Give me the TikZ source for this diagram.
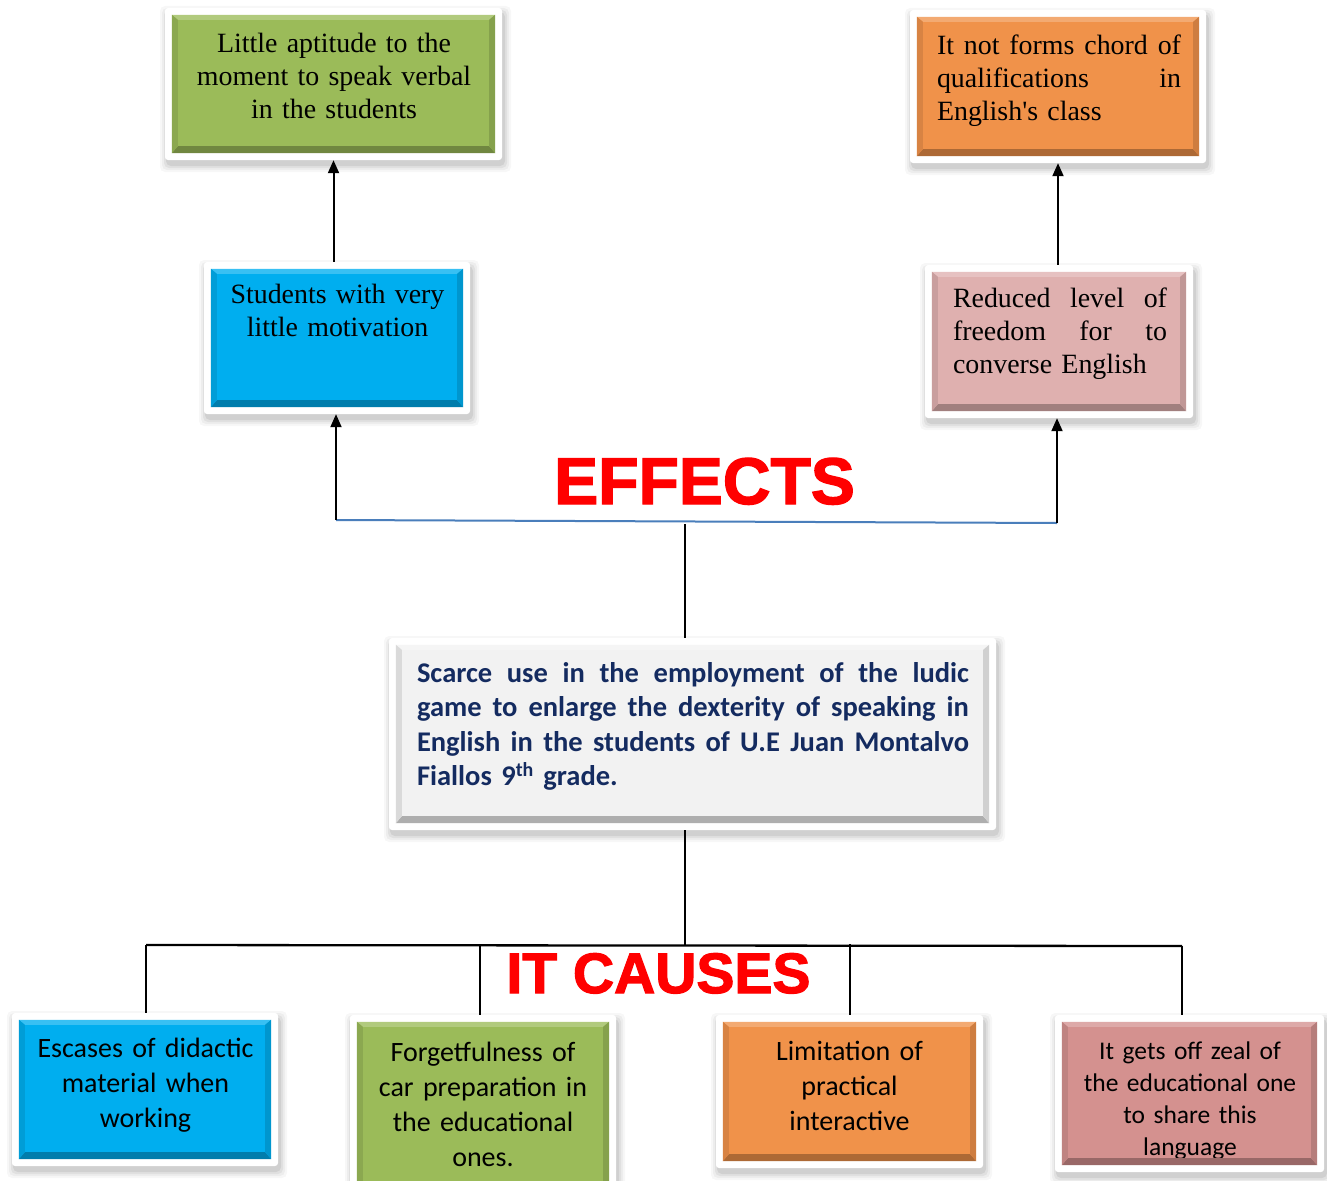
\documentclass[tikz,border=0pt]{standalone}
\usepackage{fontspec}
\setmainfont{Liberation Serif}
\newfontfamily\calib{Carlito}
\newfontfamily\arialf{Liberation Sans}[BoldFeatures={FakeBold=2}]
\usetikzlibrary{arrows.meta,calc}
\definecolor{cgreen}{HTML}{9BBB59}
\definecolor{corange}{HTML}{F0924A}
\definecolor{cblue}{HTML}{00AEEF}
\definecolor{cpinkl}{HTML}{DFB0AF}
\definecolor{cpink}{HTML}{D4918F}
\definecolor{cgray}{HTML}{F2F2F2}
\definecolor{navy}{HTML}{142B60}
\definecolor{linkblue}{HTML}{4A7EBB}
\definecolor{hred}{HTML}{FF0000}
\tikzset{
  frame/.style={draw=none, fill=white, rounded corners=3pt, inner sep=0pt},
  arr/.style={line width=2pt, -{Triangle[length=13pt,width=11pt]}},
  link/.style={line width=1.3pt},
  thicklink/.style={line width=2.3pt},
  ttext/.style={font=\fontsize{27.9}{33}\selectfont, inner sep=0pt, anchor=north},
  ctext/.style={font=\calib\fontsize{28}{35}\selectfont, inner sep=0pt, anchor=north, align=center},
  headline/.style={text=hred, inner sep=0pt, anchor=base}
}
% justified line of given width
\newcommand\jline[2]{\leavevmode\hbox to #1pt{\strut #2}}
% #1 name, #2 cx, #3 cy, #4 w, #5 h, #6 colour
\newcommand\ebox[6]{%
  \foreach \k/\o in {7/0.03,5/0.04,3/0.05,1/0.07}{%
    \fill[black,opacity=\o,rounded corners=5pt]
      ({#2-#4/2-\k+2},{#3-#5/2-\k+5}) rectangle ({#2+#4/2+\k+2},{#3+#5/2+\k+5});}
  \node[frame, minimum width=#4pt, minimum height=#5pt] (#1) at (#2,#3) {};
  \coordinate (#1-nw) at ($(#1.north west)+(7,7)$);
  \coordinate (#1-se) at ($(#1.south east)+(-7,-7)$);
  \coordinate (#1-ne) at (#1-se |- #1-nw);
  \coordinate (#1-sw) at (#1-nw |- #1-se);
  \fill[#6] (#1-nw) rectangle (#1-se);
}
\newcommand\bevel[2]{%
  \fill[#2!78!white] (#1-nw) -- (#1-ne) -- ($(#1-ne)+(-6,5)$) -- ($(#1-nw)+(6,5)$) -- cycle;
  \fill[#2!72!black] (#1-sw) -- (#1-se) -- ($(#1-se)+(-6,-7)$) -- ($(#1-sw)+(6,-7)$) -- cycle;
  \fill[#2!90!black] (#1-nw) -- ($(#1-nw)+(6,5)$) -- ($(#1-sw)+(6,-7)$) -- (#1-sw) -- cycle;
  \fill[#2!86!black] (#1-ne) -- ($(#1-ne)+(-6,5)$) -- ($(#1-se)+(-6,-7)$) -- (#1-se) -- cycle;
}
\begin{document}
\begin{tikzpicture}[x=1pt,y=-1pt]
\useasboundingbox (0,0) rectangle (1327,1180);
\clip (0,0) rectangle (1327,1180);
\fill[white] (0,0) rectangle (1327,1180);

% ---------- boxes ----------
\ebox{tl}{333.5}{84}{337}{152}{cgreen}
\node[ttext, text width=310pt, align=center] (tlt) at (334,29) {\strut Little aptitude to the\\moment to speak verbal\\in the students};
\bevel{tl}{cgreen}

\ebox{tr}{1058}{86.5}{296}{153}{corange}
\node[ttext, text width=244pt, align=left] (trt) at (1059,31)
 {\jline{244}{It\hfill not\hfill forms\hfill chord\hfill of}\\\jline{244}{qualifications\hfill in}\\\jline{244}{English\textquotesingle s class\hfil}};
\bevel{tr}{corange}

\ebox{ml}{337}{338}{266}{152}{cblue}
\node[ttext, text width=240pt, align=center] (mlt) at (337.5,280) {\strut Students with very\\little motivation};
\bevel{ml}{cblue}

\ebox{mr}{1059}{341.5}{268}{153}{cpinkl}
\node[ttext, text width=214pt, align=left] (mrt) at (1060,284)
 {\jline{214}{Reduced\hfill level\hfill of}\\\jline{214}{freedom\hfill for\hfill to}\\\jline{214}{converse English\hfil}};
\bevel{mr}{cpinkl}

\ebox{cc}{692.5}{734}{607}{192}{cgray}
\node[inner sep=0pt, anchor=north, text width=552pt, align=left, text=navy,
      font=\calib\bfseries\fontsize{28.5}{34.5}\selectfont] (cct) at (693,658)
 {\jline{552}{Scarce\hfill use\hfill in\hfill the\hfill employment\hfill of\hfill the\hfill ludic}\\
  \jline{552}{game\hfill to\hfill enlarge\hfill the\hfill dexterity\hfill of\hfill speaking\hfill in}\\
  \jline{552}{English\hfill in\hfill the\hfill students\hfill of\hfill U.E\hfill Juan\hfill Montalvo}\\
  \jline{552}{Fiallos 9\textsuperscript{th} grade.\hfil}};
\bevel{cc}{cgray}

\ebox{ba}{145}{1089.5}{266}{153}{cblue}
\node[ctext, text width=240pt] (bat) at (145.5,1032.5) {\strut Escases of didactic\\material when\\working};
\bevel{ba}{cblue}

\ebox{bb}{483}{1105}{266}{180}{cgreen}
\node[ctext, text width=240pt] (bbt) at (483,1036.5) {\strut Forgetfulness of\\car preparation in\\the educational\\ones.};
\bevel{bb}{cgreen}

\ebox{bc}{849.5}{1091.5}{267}{153}{corange}
\node[ctext, text width=240pt] (bct) at (849.5,1035.5) {\strut Limitation of\\practical\\interactive};
\bevel{bc}{corange}

\ebox{bd}{1189.5}{1093.5}{269}{157}{cpink}
\node[ctext, text width=245pt, font=\calib\fontsize{25.5}{32}\selectfont] (bdt) at (1190,1036.6) {\strut It gets off zeal of\\the educational one\\to share this\\language};
\bevel{bd}{cpink}

% ---------- headings ----------
\node[headline, font=\arialf\bfseries\fontsize{66}{70}\selectfont] (eff) at (704.5,504) {EFFECTS};
\node[headline, font=\arialf\bfseries\fontsize{57}{60}\selectfont] (cau) at (658.5,993) {IT CAUSES};

% ---------- connectors (effects) ----------
\coordinate (eL) at (336,520);
\coordinate (eR) at (1057,523);
\coordinate (eM) at (685,524);
\draw[linkblue, line width=2pt] (eL) -- (eR);
\draw[arr] (eL) -- (eL |- ml.south);
\draw[arr] (eR) -- (eR |- mr.south);
\draw[link] (cc.north -| eM) -- (eM);
\draw[arr] (tl.south |- ml.north) -- (tl.south);
\draw[arr] (tr.south |- mr.north) -- (tr.south);

% ---------- connectors (causes) ----------
\coordinate (cM) at (685,945);
\coordinate (hL) at (146,945);
\coordinate (hR) at (1182,946);
\coordinate (h2) at (480,945);
\coordinate (h3) at (850,944);
\draw[link] (cc.south -| cM) -- (cM);
\draw[thicklink] (hL) -- (hR);
\draw[thicklink] (hL) -- (hL |- ba.north);
\draw[link] (h2) -- (h2 |- bb.north);
\draw[link] (h3) -- (h3 |- bc.north);
\draw[thicklink] (hR) -- (hR |- bd.north);
\end{tikzpicture}
\end{document}
